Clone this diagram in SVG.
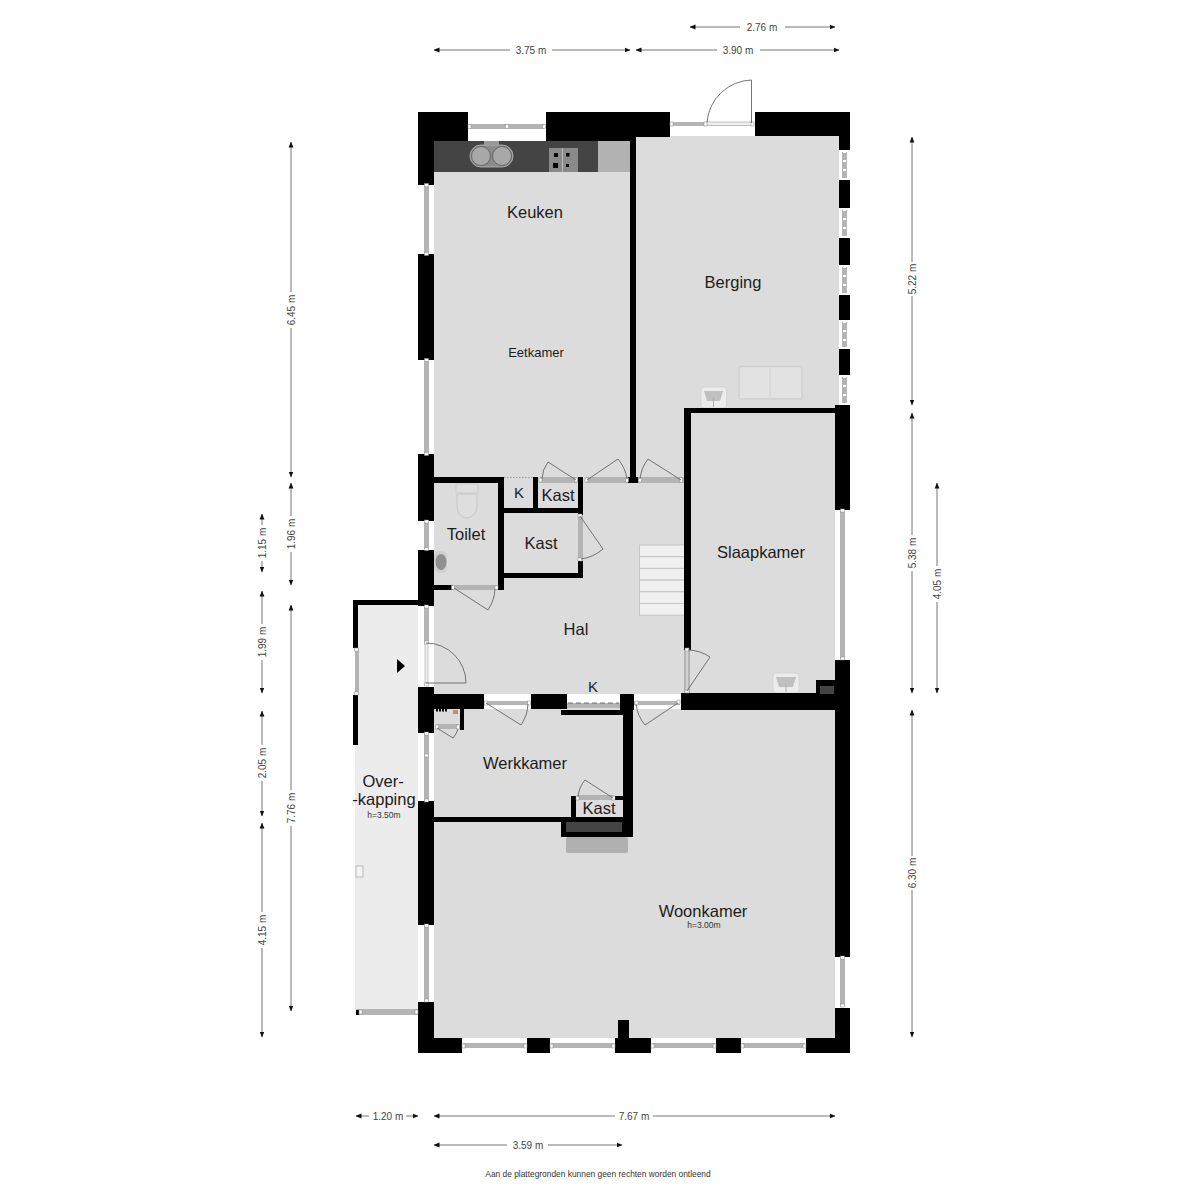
<svg xmlns="http://www.w3.org/2000/svg" width="1200" height="1200" viewBox="0 0 1200 1200">
<style>
text{font-family:"Liberation Sans",Arial,sans-serif}
.room{font-size:16.5px;fill:#1c1c1c;text-anchor:middle}
.sm{font-size:13px;fill:#1c1c1c;text-anchor:middle}
.h{font-size:8.5px;fill:#333;text-anchor:middle}
.dim{font-size:10px;fill:#444;text-anchor:middle}
.foot{font-size:8.4px;fill:#333;text-anchor:middle}
.wall{fill:#000}
.gap{fill:#fff}
.bar{fill:#b4b4b4}
.pin{fill:#fff;stroke:#888;stroke-width:.5}
.door{fill:none;stroke:#666;stroke-width:.9}
.d{fill:none;stroke:#777;stroke-width:1}
.a{marker-end:url(#ah)}
.fix{fill:#e2e2e2;stroke:#d0d0d0;stroke-width:1.5}
</style>
<defs>
<marker id="ah" viewBox="0 0 6 6" refX="5.5" refY="3" markerWidth="6" markerHeight="6" markerUnits="userSpaceOnUse" orient="auto"><path d="M0 .6L6 3L0 5.4z" fill="#111"/></marker>
</defs>
<rect width="1200" height="1200" fill="#fff"/>
<g id="floors">
<rect x="358" y="605" width="60" height="407" fill="#ececec"/>
<rect x="355" y="745" width="63" height="267" fill="#ececec"/>
<rect x="434" y="136" width="405" height="902" fill="#dcdcdc"/>
<rect x="598" y="141" width="32" height="31" fill="#b2b2b2"/>
<rect x="434" y="141" width="164" height="31" fill="#444"/>
</g>
<g id="fixtures">
<path d="M481 145a11 11 0 1 0 0 22h21a11 11 0 1 0 0-22z" fill="#8c8c8c" stroke="#bbb" stroke-width=".8"/>
<circle cx="481" cy="156" r="9.500" fill="#a8a8a8" stroke="#555" stroke-width=".8"/>
<circle cx="502" cy="156" r="9.500" fill="#a8a8a8" stroke="#555" stroke-width=".8"/>
<rect x="484" y="141" width="15" height="4" fill="#999"/>
<rect x="549" y="148" width="29" height="24" fill="#8a8a8a"/>
<path d="M562.500 148v24" stroke="#bbb"/>
<rect x="554" y="153" width="4" height="4" fill="#000"/><rect x="566" y="153" width="3.500" height="3.500" fill="#000"/>
<rect x="553" y="163" width="5" height="5" fill="#000"/><rect x="566" y="164" width="3" height="3" fill="#000"/>
<rect x="739" y="366.500" width="63" height="32.500" rx="2" class="fix"/><path d="M770 367v32" stroke="#d0d0d0"/>
<rect x="701" y="387" width="25.500" height="21" rx="3" fill="#ececec" stroke="#d4d4d4"/><path d="M704 391h19l-3 10h-13z" fill="#c0c0c0"/><path d="M713.500 398v9" stroke="#aaa"/>
<rect x="773" y="673" width="26" height="20" rx="3" fill="#ececec" stroke="#d4d4d4"/><path d="M776 677h20l-3 10h-14z" fill="#c0c0c0"/><path d="M786 684v8" stroke="#aaa"/>
<rect x="456" y="484" width="22" height="9" fill="#dedede" stroke="#ccc"/>
<path d="M457 494h20v12a10 12 0 0 1-20 0z" fill="#dedede" stroke="#c6c6c6"/>
<rect x="434" y="551" width="13" height="22" rx="5" fill="#d0d0d0"/><ellipse cx="441" cy="562" rx="5.500" ry="8" fill="#909090"/>
<g stroke="#c4c4c4" stroke-width="1" fill="#f0f0f0">
<rect x="639.500" y="545" width="45" height="11.700"/><rect x="639.500" y="556.700" width="45" height="11.700"/><rect x="639.500" y="568.400" width="45" height="11.700"/><rect x="639.500" y="580.100" width="45" height="11.700"/><rect x="639.500" y="591.800" width="45" height="11.700"/><rect x="639.500" y="603.500" width="45" height="11.700"/>
</g>
<rect x="566" y="837" width="62" height="16" rx="2" fill="#b0b0b0"/>
<path d="M397 659l8 7-8 7z" fill="#000"/>
<rect x="356" y="866" width="7" height="11" fill="#f4f4f4" stroke="#bbb"/>
</g>
<g id="walls">
<rect class="wall" x="418" y="112" width="50" height="29"/>
<rect class="wall" x="418" y="112" width="16" height="73"/>
<rect class="wall" x="546" y="112" width="124" height="25"/>
<rect class="wall" x="546" y="112" width="90" height="29"/>
<rect class="wall" x="755" y="112" width="95" height="24"/>
<rect class="wall" x="839" y="112" width="11" height="38"/>
<rect class="wall" x="839" y="180" width="11" height="28"/>
<rect class="wall" x="839" y="238" width="11" height="27"/>
<rect class="wall" x="839" y="295" width="11" height="25"/>
<rect class="wall" x="839" y="349" width="11" height="26"/>
<rect class="wall" x="835" y="405" width="15" height="105"/>
<rect class="wall" x="835" y="660" width="15" height="297"/>
<rect class="wall" x="835" y="1008" width="15" height="45"/>
<rect class="wall" x="418" y="254" width="16" height="106"/>
<rect class="wall" x="418" y="454" width="16" height="67"/>
<rect class="wall" x="418" y="550" width="16" height="56"/>
<rect class="wall" x="418" y="687" width="16" height="46"/>
<rect class="wall" x="418" y="801" width="16" height="124"/>
<rect class="wall" x="418" y="1002" width="16" height="51"/>
<rect class="wall" x="418" y="1038" width="44" height="15"/>
<rect class="wall" x="527" y="1038" width="23" height="15"/>
<rect class="wall" x="615" y="1038" width="36" height="15"/>
<rect class="wall" x="618" y="1020" width="11" height="18"/>
<rect class="wall" x="716" y="1038" width="25" height="15"/>
<rect class="wall" x="806" y="1038" width="44" height="15"/>
<rect class="wall" x="630" y="137" width="6" height="343"/>
<rect class="wall" x="628" y="477" width="10" height="6"/>
<rect class="wall" x="684" y="408" width="151" height="5"/>
<rect class="wall" x="684" y="408" width="7" height="242"/>
<rect class="wall" x="434" y="477" width="70" height="6"/>
<rect class="wall" x="498" y="477" width="6" height="113"/>
<rect class="wall" x="533" y="477" width="5" height="36"/>
<rect class="wall" x="504" y="508" width="79" height="5"/>
<rect class="wall" x="578" y="477" width="5" height="38"/>
<rect class="wall" x="578" y="561" width="5" height="17"/>
<rect class="wall" x="504" y="573" width="79" height="5"/>
<rect class="wall" x="434" y="585" width="19" height="5"/>
<rect class="wall" x="353" y="600" width="65" height="5"/>
<rect class="wall" x="353" y="600" width="5" height="48"/>
<rect class="wall" x="353" y="695" width="5" height="50"/>
<rect class="wall" x="434" y="694" width="50" height="15"/>
<rect class="wall" x="460" y="709" width="4" height="21"/>
<rect class="wall" x="531" y="694" width="36" height="15"/>
<rect class="wall" x="561" y="710" width="62" height="5"/>
<rect class="wall" x="620" y="694" width="14" height="16"/>
<rect class="wall" x="623" y="694" width="10" height="143"/>
<rect class="wall" x="434" y="817" width="128" height="5"/>
<rect class="wall" x="561" y="817" width="72" height="20"/>
<rect class="wall" x="571" y="796" width="5" height="21"/>
<rect class="wall" x="615" y="796" width="8" height="4"/>
<rect class="wall" x="681" y="693" width="154" height="17"/>
<rect class="wall" x="816" y="680" width="19" height="14"/>
<rect x="820" y="686" width="14" height="8" fill="#444"/>
<rect x="566" y="822" width="56" height="10" fill="#444"/>
<rect x="576" y="800" width="47" height="17" fill="#dcdcdc"/>
<rect x="577" y="795" width="37" height="5" class="bar"/>
<path d="M436 710h12" stroke="#000" stroke-width="3" stroke-dasharray="2 1"/>
<rect x="453" y="710" width="5" height="4" fill="#c98a70"/>
</g>
<g id="openings">
<rect class="gap" x="468" y="112" width="78" height="29"/>
<rect class="bar" x="470" y="124" width="74" height="5"/>
<rect class="pin" x="468" y="124.500" width="3" height="4"/><rect class="pin" x="505.500" y="124.500" width="3" height="4"/><rect class="pin" x="542.500" y="124.500" width="3" height="4"/>
<rect class="gap" x="670" y="112" width="85" height="24"/>
<rect class="bar" x="672" y="122" width="34" height="4"/>
<rect x="706" y="122" width="46" height="3.500" fill="#eee" stroke="#999" stroke-width=".6"/>
<rect class="pin" x="670" y="122" width="3" height="4"/><rect class="pin" x="704" y="122" width="3" height="4"/><rect class="pin" x="751" y="122" width="3" height="4"/>
<path class="door" d="M751.500 123V80A46 46 0 0 0 707 122"/>
<g id="rw">
<rect class="gap" x="839" y="150" width="11" height="30"/><rect class="bar" x="842" y="152" width="5" height="26"/>
<rect class="gap" x="839" y="208" width="11" height="30"/><rect class="bar" x="842" y="210" width="5" height="26"/>
<rect class="gap" x="839" y="265" width="11" height="30"/><rect class="bar" x="842" y="267" width="5" height="26"/>
<rect class="gap" x="839" y="320" width="11" height="29"/><rect class="bar" x="842" y="322" width="5" height="25"/>
<rect class="gap" x="839" y="375" width="11" height="30"/><rect class="bar" x="842" y="377" width="5" height="26"/>
</g>
<path d="M844.500 151V179M844.500 209V237M844.500 266V294M844.500 321V348M844.500 376V404" stroke="#fff" stroke-width="3" stroke-dasharray="2 7"/>
<rect class="gap" x="835" y="510" width="15" height="150"/><rect class="bar" x="840" y="511" width="5" height="148"/>
<rect class="gap" x="835" y="957" width="15" height="51"/><rect class="bar" x="840" y="958" width="5" height="48"/>
<rect class="gap" x="418" y="185" width="16" height="69"/><rect class="bar" x="424" y="186" width="5" height="67"/>
<rect class="gap" x="418" y="360" width="16" height="94"/><rect class="bar" x="424" y="361" width="5" height="92"/>
<rect class="gap" x="418" y="521" width="16" height="29"/><rect class="bar" x="424" y="522" width="5" height="27"/>
<rect class="gap" x="418" y="606" width="16" height="81"/><rect class="bar" x="424" y="607" width="5" height="36"/>
<rect x="425" y="643" width="3" height="40" fill="#eee" stroke="#999" stroke-width=".5"/>
<rect class="gap" x="418" y="733" width="16" height="68"/><rect class="bar" x="424" y="734" width="5" height="66"/>
<rect class="gap" x="418" y="925" width="16" height="77"/><rect class="bar" x="424" y="926" width="5" height="75"/>
<g>
<rect class="pin" x="424.500" y="183.500" width="4" height="3"/><rect class="pin" x="424.500" y="252.500" width="4" height="3"/>
<rect class="pin" x="424.500" y="358.500" width="4" height="3"/><rect class="pin" x="424.500" y="452.500" width="4" height="3"/>
<rect class="pin" x="424.500" y="520" width="4" height="3"/><rect class="pin" x="424.500" y="547.500" width="4" height="3"/>
<rect class="pin" x="424.500" y="605" width="4" height="3"/><rect class="pin" x="424.500" y="641" width="4" height="3"/><rect class="pin" x="424.500" y="683" width="4" height="3"/>
<rect class="pin" x="424.500" y="732" width="4" height="3"/><rect class="pin" x="424.500" y="754" width="4" height="3"/><rect class="pin" x="424.500" y="799" width="4" height="3"/>
<rect class="pin" x="424.500" y="924" width="4" height="3"/><rect class="pin" x="424.500" y="999" width="4" height="3"/>
<rect class="pin" x="840.500" y="509" width="4" height="3"/><rect class="pin" x="840.500" y="657" width="4" height="3"/>
<rect class="pin" x="840.500" y="956" width="4" height="3"/><rect class="pin" x="840.500" y="1004" width="4" height="3"/>
</g>
<path class="door" d="M426 683H466A40 40 0 0 0 426 643"/>
<rect class="gap" x="462" y="1038" width="65" height="15"/><rect class="bar" x="463" y="1043" width="63" height="5"/>
<rect class="gap" x="550" y="1038" width="65" height="15"/><rect class="bar" x="551" y="1043" width="63" height="5"/>
<rect class="gap" x="651" y="1038" width="65" height="15"/><rect class="bar" x="652" y="1043" width="63" height="5"/>
<rect class="gap" x="741" y="1038" width="65" height="15"/><rect class="bar" x="742" y="1043" width="63" height="5"/>
<g>
<rect class="pin" x="462" y="1044" width="3" height="4"/><rect class="pin" x="524" y="1044" width="3" height="4"/>
<rect class="pin" x="550" y="1044" width="3" height="4"/><rect class="pin" x="612" y="1044" width="3" height="4"/>
<rect class="pin" x="651" y="1044" width="3" height="4"/><rect class="pin" x="713" y="1044" width="3" height="4"/>
<rect class="pin" x="741" y="1044" width="3" height="4"/><rect class="pin" x="803" y="1044" width="3" height="4"/>
</g>
<rect class="bar" x="355" y="648" width="4" height="47"/>
<rect class="pin" x="354.500" y="648" width="4" height="3"/><rect class="pin" x="354.500" y="692" width="4" height="3"/>
<rect class="bar" x="356" y="1009" width="62" height="6"/>
<rect x="356" y="1010" width="3" height="5" fill="#000"/>
<rect class="pin" x="359" y="1010" width="3" height="4"/><rect class="pin" x="415" y="1010" width="3" height="4"/>
<rect class="bar" x="540" y="477" width="37" height="6"/>
<rect class="pin" x="539" y="478" width="3" height="4"/><rect class="pin" x="574.500" y="478" width="3" height="4"/>
<path class="door" d="M576 480L548 462A30 30 0 0 0 542 479"/>
<rect class="bar" x="586" y="477" width="42" height="6"/>
<rect class="pin" x="585" y="478" width="3" height="4"/><rect class="pin" x="625.500" y="478" width="3" height="4"/>
<path class="door" d="M587 480L618 459A40 40 0 0 1 627 479"/>
<rect class="bar" x="638" y="477" width="46" height="6"/>
<rect class="pin" x="638.500" y="478" width="3" height="4"/><rect class="pin" x="679.500" y="478" width="3" height="4"/>
<path class="door" d="M681 480L648 459A40 40 0 0 0 640 479"/>
<rect class="bar" x="578" y="515" width="5" height="46"/>
<rect class="pin" x="578" y="514" width="4" height="3"/><rect class="pin" x="578" y="558" width="4" height="3"/>
<path class="door" d="M580 516L603 549A42 42 0 0 1 581 559"/>
<rect class="bar" x="453" y="585" width="45" height="5"/>
<rect class="pin" x="451.500" y="585.500" width="3" height="4"/><rect class="pin" x="495" y="585.500" width="3" height="4"/>
<path class="door" d="M454 588L488 610A40 40 0 0 0 495 589"/>
<rect class="gap" x="484" y="694" width="47" height="15"/><rect class="bar" x="485" y="701" width="45" height="4"/>
<rect class="pin" x="484.500" y="701" width="3" height="4"/><rect class="pin" x="527.500" y="701" width="3" height="4"/>
<path class="door" d="M486 703L521 725A40 40 0 0 0 528 704"/>
<rect class="gap" x="634" y="694" width="47" height="15"/><rect class="bar" x="634" y="701" width="46" height="4"/>
<rect class="pin" x="635" y="701" width="3" height="4"/><rect class="pin" x="677" y="700" width="3" height="4"/>
<path class="door" d="M678 703L645 725A40 40 0 0 1 636 704"/>
<rect class="gap" x="567" y="694" width="53" height="9"/><rect x="567" y="703" width="53" height="5" class="bar"/>
<path d="M568 703H619" stroke="#555" stroke-width=".8" stroke-dasharray="5 3"/>
<rect class="bar" x="684" y="650" width="6" height="43"/>
<path d="M687 650V692" stroke="#ddd" stroke-width="1.500"/>
<rect class="pin" x="685" y="648" width="4" height="3"/><rect class="pin" x="685" y="690" width="4" height="3"/>
<path class="door" d="M687 691L710 657A40 40 0 0 0 688 650"/>
<rect x="437" y="724" width="22" height="5" class="bar"/>
<rect class="pin" x="435.500" y="725" width="3" height="4"/><rect class="pin" x="456.500" y="725" width="3" height="4"/>
<path class="door" d="M437 728L453 738A24 24 0 0 0 458 729"/>
<rect class="pin" x="576" y="796" width="3" height="4"/><rect class="pin" x="612" y="796" width="3" height="4"/>
<path class="door" d="M613 798L585 780A30 30 0 0 0 578 797"/>
<path d="M504 477.500H533" stroke="#888" stroke-width=".8" stroke-dasharray="1.500 1.500"/>
</g>
<g id="connectors">
<path class="d a" d="M740 27H690"/><path class="d a" d="M785 27H835"/>
<path class="d a" d="M510 50H434"/><path class="d a" d="M552 50H630"/>
<path class="d a" d="M717 50H636"/><path class="d a" d="M760 50H839"/>
<path class="d a" d="M912 262V137"/><path class="d a" d="M912 296V405"/>
<path class="d a" d="M912 535V413"/><path class="d a" d="M912 571V693"/>
<path class="d a" d="M912 856V710"/><path class="d a" d="M912 890V1037"/>
<path class="d a" d="M937 566V483"/><path class="d a" d="M937 602V693"/>
<path class="d a" d="M291 292V142"/><path class="d a" d="M291 328V477"/>
<path class="d a" d="M291 516V483"/><path class="d a" d="M291 552V585"/>
<path class="d a" d="M291 790V605"/><path class="d a" d="M291 826V1011"/>
<path class="d a" d="M262 525V514"/><path class="d a" d="M262 561V572"/>
<path class="d a" d="M262 624V591"/><path class="d a" d="M262 660V693"/>
<path class="d a" d="M262 745V711"/><path class="d a" d="M262 781V816"/>
<path class="d a" d="M262 912V823"/><path class="d a" d="M262 948V1037"/>
<path class="d a" d="M369 1116H356"/><path class="d a" d="M406 1116H418"/>
<path class="d a" d="M615 1116H434"/><path class="d a" d="M653 1116H835"/>
<path class="d a" d="M507 1145H434"/><path class="d a" d="M548 1145H622"/>
</g>
<g id="labels">
<text class="room" x="535" y="218">Keuken</text>
<text class="sm" x="536" y="357">Eetkamer</text>
<text class="room" x="733" y="288">Berging</text>
<text class="room" x="761" y="558">Slaapkamer</text>
<text class="room" x="466" y="540">Toilet</text>
<text class="room" x="519" y="498" style="font-size:15px">K</text>
<text class="room" x="558" y="501">Kast</text>
<text class="room" x="541" y="549">Kast</text>
<text class="room" x="576" y="635">Hal</text>
<text class="room" x="593" y="692" style="font-size:15px">K</text>
<text class="room" x="525" y="769">Werkkamer</text>
<text class="room" x="599" y="814">Kast</text>
<text class="room" x="383" y="787">Over-</text>
<text class="room" x="384" y="805">-kapping</text>
<text class="h" x="384" y="818">h=3.50m</text>
<text class="room" x="703" y="917">Woonkamer</text>
<text class="h" x="704" y="928">h=3.00m</text>
</g>
<g id="dimensions">
<text class="dim" x="762" y="31">2.76 m</text>
<text class="dim" x="531" y="54">3.75 m</text>
<text class="dim" x="738" y="54">3.90 m</text>
<text class="dim" transform="translate(915.500 279) rotate(-90)">5.22 m</text>
<text class="dim" transform="translate(915.500 553) rotate(-90)">5.38 m</text>
<text class="dim" transform="translate(915.500 873) rotate(-90)">6.30 m</text>
<text class="dim" transform="translate(940.500 584) rotate(-90)">4.05 m</text>
<text class="dim" transform="translate(294.500 310) rotate(-90)">6.45 m</text>
<text class="dim" transform="translate(294.500 534) rotate(-90)">1.96 m</text>
<text class="dim" transform="translate(294.500 808) rotate(-90)">7.76 m</text>
<text class="dim" transform="translate(265.500 543) rotate(-90)">1.15 m</text>
<text class="dim" transform="translate(265.500 642) rotate(-90)">1.99 m</text>
<text class="dim" transform="translate(265.500 763) rotate(-90)">2.05 m</text>
<text class="dim" transform="translate(265.500 930) rotate(-90)">4.15 m</text>
<text class="dim" x="388" y="1120">1.20 m</text>
<text class="dim" x="634" y="1120">7.67 m</text>
<text class="dim" x="528" y="1149">3.59 m</text>
<text class="foot" x="598" y="1177">Aan de plattegronden kunnen geen rechten worden ontleend</text>
</g>
</svg>
